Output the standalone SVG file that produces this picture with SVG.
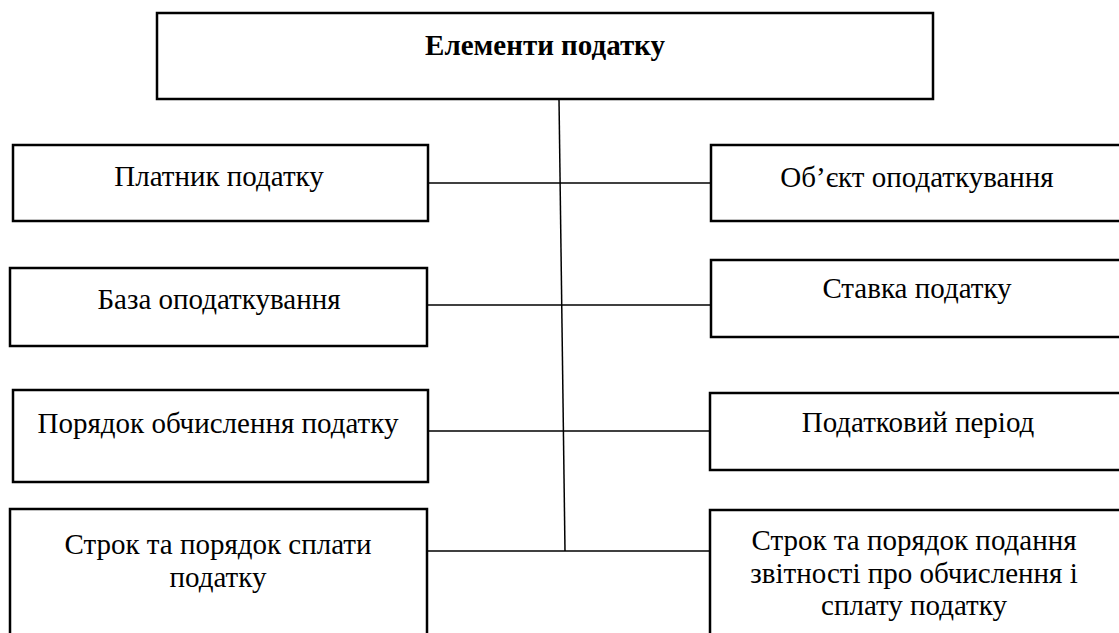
<svg xmlns="http://www.w3.org/2000/svg" width="1119" height="633" viewBox="0 0 1119 633">
  <style>
    .box { fill: #ffffff; stroke: #000000; stroke-width: 2.5; }
    .lbl { font-family: "Liberation Serif", "Times New Roman", serif; font-size: 29px; fill: #000000; text-anchor: middle; }
    .title { font-weight: bold; }
    .link { stroke: #000000; stroke-width: 1.5; fill: none; }
  </style>
  <rect width="1119" height="633" fill="#ffffff"/>

  <!-- connectors: spine from the root box and branches to each element -->
  <g id="connectors">
    <line class="link" x1="559" y1="99" x2="565" y2="551"/>
    <line class="link" x1="428" y1="183" x2="711" y2="183"/>
    <line class="link" x1="427" y1="305" x2="711" y2="305"/>
    <line class="link" x1="427" y1="431" x2="710" y2="431"/>
    <line class="link" x1="427" y1="551" x2="710" y2="551"/>
  </g>

  <g id="root">
    <rect class="box" x="157" y="13" width="776" height="86"/>
    <text class="lbl title" x="545" y="55">Елементи податку</text>
  </g>

  <g id="payer">
    <rect class="box" x="13" y="145" width="415" height="76"/>
    <text class="lbl" x="219" y="186">Платник податку</text>
  </g>
  <g id="object">
    <rect class="box" x="711" y="145" width="420" height="76"/>
    <text class="lbl" x="917" y="187">Об’єкт оподаткування</text>
  </g>

  <g id="base">
    <rect class="box" x="10" y="268" width="417" height="78"/>
    <text class="lbl" x="219" y="309">База оподаткування</text>
  </g>
  <g id="rate">
    <rect class="box" x="711" y="260" width="420" height="77"/>
    <text class="lbl" x="917" y="298">Ставка податку</text>
  </g>

  <g id="calculation">
    <rect class="box" x="13" y="390" width="415" height="92"/>
    <text class="lbl" x="218" y="433">Порядок обчислення податку</text>
  </g>
  <g id="period">
    <rect class="box" x="710" y="393" width="421" height="77"/>
    <text class="lbl" x="918" y="432">Податковий період</text>
  </g>

  <g id="payment">
    <rect class="box" x="10" y="509" width="417" height="140"/>
    <text class="lbl" x="218" y="554">Строк та порядок сплати</text>
    <text class="lbl" x="218" y="587">податку</text>
  </g>
  <g id="reporting">
    <rect class="box" x="710" y="510" width="421" height="140"/>
    <text class="lbl" x="914" y="550">Строк та порядок подання</text>
    <text class="lbl" x="914" y="583">звітності про обчислення і</text>
    <text class="lbl" x="914" y="615">сплату податку</text>
  </g>
</svg>
